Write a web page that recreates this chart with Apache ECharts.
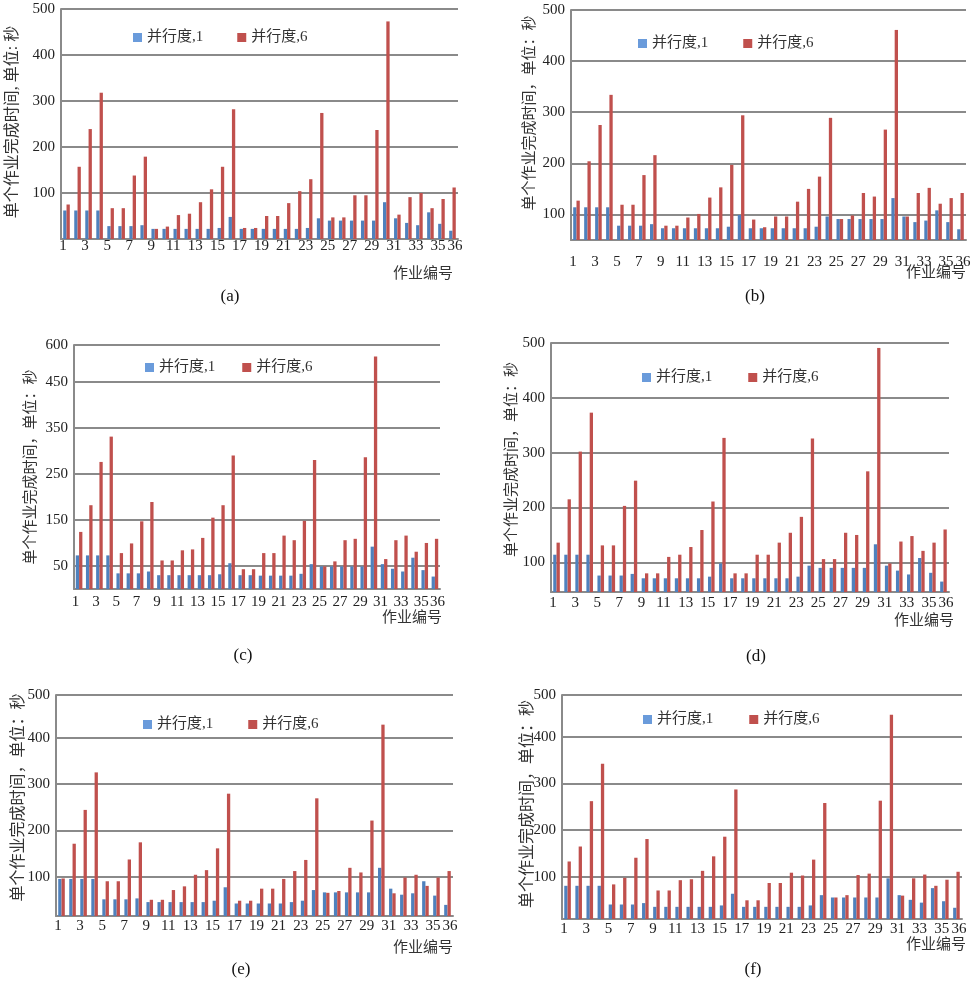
<!DOCTYPE html>
<html><head><meta charset="utf-8">
<script src="https://cdn.jsdelivr.net/npm/echarts@6/dist/echarts.min.js"></script>
<style>html,body{margin:0;padding:0;background:#fff}#c{width:979px;height:982px}</style>
</head><body><div id="c"></div>
<script>
// ---------- data ----------
const categories = ['1','2','3','4','5','6','7','8','9','10','11','12','13','14','15','16','17','18',
  '19','20','21','22','23','24','25','26','27','28','29','30','31','32','33','34','35','36'];
const seriesNames = ['并行度,1', '并行度,6'];

const a1 = [62,62,62,62,28,28,28,30,22,22,22,22,22,22,24,48,22,22,22,22,22,22,24,45,40,40,40,40,40,80,45,35,30,58,33,18];
const a6 = [75,157,239,318,67,67,138,179,22,27,52,55,80,108,157,282,24,24,50,50,78,104,130,274,47,47,95,95,237,473,53,91,100,67,87,112];

const b1 = [114,114,114,114,78,78,78,81,73,73,73,73,73,73,76,99,73,73,73,73,73,73,76,96,91,91,91,91,91,132,96,85,88,108,85,71];
const b6 = [127,204,275,334,119,119,177,216,78,78,94,101,133,153,197,294,90,75,96,96,125,150,174,289,91,98,142,135,266,461,96,142,152,121,132,142];

const c1 = [73,73,73,73,34,34,34,38,30,30,30,30,30,30,32,56,30,30,29,29,29,29,33,54,49,49,49,49,49,92,54,44,38,68,41,27];
const c6 = [124,182,276,331,78,99,147,189,62,62,84,86,111,155,182,290,43,43,78,78,116,106,148,280,49,60,106,109,286,505,65,106,116,81,100,109];

const d1 = [114,114,114,114,76,76,76,79,71,71,71,71,71,71,74,98,71,71,71,71,71,71,74,94,90,90,90,90,90,133,94,85,78,108,81,65];
const d6 = [136,215,302,373,131,131,203,249,80,80,110,114,128,159,211,327,80,80,114,114,136,154,183,326,106,106,154,150,266,491,98,138,148,121,136,160];

const e1 = [95,95,95,95,51,51,51,53,45,45,45,45,45,45,48,77,42,42,42,42,42,45,48,71,66,66,66,66,66,119,74,61,64,90,59,39];
const e6 = [96,171,244,325,90,90,137,174,50,50,71,79,104,114,161,279,48,48,74,74,95,112,136,269,65,69,119,109,221,428,64,98,104,80,98,112];

const f1 = [81,81,81,81,41,41,41,44,36,36,36,36,36,36,39,64,36,36,36,36,36,36,39,61,56,56,56,56,56,97,61,51,45,76,48,34];
const f6 = [133,165,262,342,84,98,141,181,71,71,93,95,113,144,186,287,50,50,87,87,109,103,137,258,56,61,104,107,263,447,60,97,105,81,94,111];

const ticksA = [100,200,300,400,500], tickLabelsA = ['100','200','300','400','500'];
const ticksB = [100,200,300,400,500], tickLabelsB = ['100','200','300','400','500'];
const ticksC = [50,150,250,350,450,530], tickLabelsC = ['50','150','250','350','450','600'];
const ticksD = [100,200,300,400,500], tickLabelsD = ['100','200','300','400','500'];
const ticksE = [100,200,300,400,492], tickLabelsE = ['100','200','300','400','500'];
const ticksF = [100,200,300,400,489], tickLabelsF = ['100','200','300','400','500'];

const yNameHalf = '单个作业完成时间, 单位: 秒';
const yNameFull = '单个作业完成时间，单位：秒';
const xName = '作业编号';
const captions = ['(a)','(b)','(c)','(d)','(e)','(f)'];

// ---------- layout ----------
const panels = [
  {d1:a1, d6:a6, ticks:ticksA, labels:tickLabelsA, yMin:0,  yMax:500, yName:yNameHalf,
   grid:{left:61,top:9,width:397,height:230}, nameGap:40, nameSize:16, nameShift:4, catMargin:0,
   legend:{left:128,cy:33,gap:34}, xn:[423,274], cap:[230,297]},
  {d1:b1, d6:b6, ticks:ticksB, labels:tickLabelsB, yMin:50, yMax:500, yName:yNameFull,
   grid:{left:571,top:10,width:395,height:230}, nameGap:33, nameSize:15, nameShift:24, catMargin:15,
   legend:{left:633,cy:39,gap:35}, xn:[936,273], cap:[755,297]},
  {d1:c1, d6:c6, ticks:ticksC, labels:tickLabelsC, yMin:0,  yMax:530, yName:yNameFull,
   grid:{left:74,top:345,width:366,height:244}, nameGap:35, nameSize:15, nameShift:0, catMargin:6,
   legend:{left:140,cy:363,gap:27}, xn:[412,618], cap:[243,656]},
  {d1:d1, d6:d6, ticks:ticksD, labels:tickLabelsD, yMin:46, yMax:500, yName:yNameFull,
   grid:{left:551,top:343,width:398,height:249}, nameGap:31, nameSize:15, nameShift:16, catMargin:4,
   legend:{left:637,cy:373,gap:36}, xn:[924,621], cap:[756,657]},
  {d1:e1, d6:e6, ticks:ticksE, labels:tickLabelsE, yMin:15, yMax:492, yName:yNameFull,
   grid:{left:56,top:695,width:397,height:221}, nameGap:29, nameSize:16, nameShift:16, catMargin:3,
   legend:{left:138,cy:720,gap:35}, xn:[423,948], cap:[241,970]},
  {d1:f1, d6:f6, ticks:ticksF, labels:tickLabelsF, yMin:10, yMax:489, yName:yNameFull,
   grid:{left:562,top:695,width:400,height:224}, nameGap:26, nameSize:16, nameShift:6, catMargin:3,
   legend:{left:638,cy:715,gap:36}, xn:[936,945], cap:[753,970]}
];

const SERIF = "'Liberation Serif', 'Noto Sans CJK SC', serif";
const GRIDC = '#8a8a8a';
const BLUE = '#4F81BD', RED = '#C0504D';
const shownCat = (idx) => idx % 2 === 0 || idx === 35;

const option = {
  animation: false,
  backgroundColor: '#fff',
  grid: panels.map(p => Object.assign({containLabel:false}, p.grid)),
  xAxis: panels.map((p,i) => ({
    type:'category', gridIndex:i, data:categories,
    axisTick:{show:false},
    axisLine:{lineStyle:{color:GRIDC, width:2}},
    axisLabel:{interval:0,
      formatter:(v, idx) => idx === 35 ? '{l|' + v + '}' : (shownCat(idx) ? v : ''),
      rich:{l:{padding:[0,0,0,12], fontSize:15, fontFamily:SERIF, color:'#222'}},
      margin:p.catMargin, hideOverlap:false,
      fontSize:15, fontFamily:SERIF, color:'#222', padding:[0,7,0,0]},
    splitLine:{show:false}
  })),
  yAxis: panels.map((p,i) => ({
    type:'value', gridIndex:i, min:p.yMin, max:p.yMax,
    axisLine:{show:true, lineStyle:{color:GRIDC, width:2}},
    axisTick:{show:false, customValues:p.ticks},
    axisLabel:{customValues:p.ticks, formatter:(v)=>{const k=p.ticks.indexOf(v); return k>=0?p.labels[k]:'';},
      fontSize:15, fontFamily:SERIF, color:'#222', margin:6},
    splitLine:{show:true, lineStyle:{color:GRIDC, width:2}},
    name:p.yName, nameLocation:'middle', nameRotate:90, nameGap:p.nameGap,
    nameMoveOverlap:false,
    nameTextStyle:{fontSize:p.nameSize, fontFamily:SERIF, color:'#333', padding:[0,0,0,p.nameShift]}
  })),
  legend: panels.map(p => ({
    left:p.legend.left, top:p.legend.cy-8, itemWidth:9, itemHeight:9, itemGap:p.legend.gap,
    icon:'rect', selectedMode:false,
    data:[{name:seriesNames[0], itemStyle:{color:'#6A9BDB'}}, {name:seriesNames[1]}],
    textStyle:{fontSize:15, fontFamily:SERIF, color:'#333'}
  })),
  series: panels.flatMap((p,i) => [
    {type:'bar', name:seriesNames[0], xAxisIndex:i, yAxisIndex:i, data:p.d1,
     barWidth:3.3, barGap:'0%', itemStyle:{color:BLUE}},
    {type:'bar', name:seriesNames[1], xAxisIndex:i, yAxisIndex:i, data:p.d6,
     barWidth:3.3, barGap:'0%', itemStyle:{color:RED}}
  ]),
  graphic: panels.flatMap((p,i) => [
    {type:'text', x:p.xn[0], y:p.xn[1], style:{text:xName, fontSize:15, fontFamily:SERIF,
      fill:'#333', align:'center', verticalAlign:'middle'}},
    {type:'text', x:p.cap[0], y:p.cap[1], style:{text:captions[i], fontSize:17, fontFamily:SERIF,
      fill:'#111', align:'center', verticalAlign:'middle'}}
  ])
};

const chart = echarts.init(document.getElementById('c'), null, {renderer:'canvas'});
chart.setOption(option);
</script>
</body></html>
